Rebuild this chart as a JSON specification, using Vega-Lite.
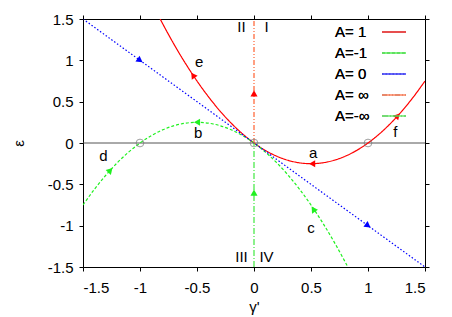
{
  "$schema": "https://vega.github.io/schema/vega-lite/v6.json",
  "width": 342,
  "height": 248,
  "autosize": "none",
  "padding": {"left": 83, "top": 19, "right": 27, "bottom": 50},
  "config": {
    "font": "Liberation Sans",
    "view": {"stroke": "black", "strokeWidth": 1},
    "axis": {"domain": false, "grid": false, "labelFontSize": 15, "labelColor": "black", "titleFontSize": 15, "titleFontWeight": "normal", "titleColor": "black"}
  },
  "datasets": {
    "curves": [
      {"series": "A= 1", "x": -0.823, "y": 1.5},
      {"series": "A= 1", "x": -0.8, "y": 1.44},
      {"series": "A= 1", "x": -0.7, "y": 1.19},
      {"series": "A= 1", "x": -0.6, "y": 0.96},
      {"series": "A= 1", "x": -0.5, "y": 0.75},
      {"series": "A= 1", "x": -0.4, "y": 0.56},
      {"series": "A= 1", "x": -0.3, "y": 0.39},
      {"series": "A= 1", "x": -0.2, "y": 0.24},
      {"series": "A= 1", "x": -0.1, "y": 0.11},
      {"series": "A= 1", "x": 0.0, "y": 0.0},
      {"series": "A= 1", "x": 0.1, "y": -0.09},
      {"series": "A= 1", "x": 0.2, "y": -0.16},
      {"series": "A= 1", "x": 0.3, "y": -0.21},
      {"series": "A= 1", "x": 0.4, "y": -0.24},
      {"series": "A= 1", "x": 0.5, "y": -0.25},
      {"series": "A= 1", "x": 0.6, "y": -0.24},
      {"series": "A= 1", "x": 0.7, "y": -0.21},
      {"series": "A= 1", "x": 0.8, "y": -0.16},
      {"series": "A= 1", "x": 0.9, "y": -0.09},
      {"series": "A= 1", "x": 1.0, "y": 0.0},
      {"series": "A= 1", "x": 1.1, "y": 0.11},
      {"series": "A= 1", "x": 1.2, "y": 0.24},
      {"series": "A= 1", "x": 1.3, "y": 0.39},
      {"series": "A= 1", "x": 1.4, "y": 0.56},
      {"series": "A= 1", "x": 1.5, "y": 0.75},
      {"series": "A=-1", "x": -1.5, "y": -0.75},
      {"series": "A=-1", "x": -1.4, "y": -0.56},
      {"series": "A=-1", "x": -1.3, "y": -0.39},
      {"series": "A=-1", "x": -1.2, "y": -0.24},
      {"series": "A=-1", "x": -1.1, "y": -0.11},
      {"series": "A=-1", "x": -1.0, "y": 0.0},
      {"series": "A=-1", "x": -0.9, "y": 0.09},
      {"series": "A=-1", "x": -0.8, "y": 0.16},
      {"series": "A=-1", "x": -0.7, "y": 0.21},
      {"series": "A=-1", "x": -0.6, "y": 0.24},
      {"series": "A=-1", "x": -0.5, "y": 0.25},
      {"series": "A=-1", "x": -0.4, "y": 0.24},
      {"series": "A=-1", "x": -0.3, "y": 0.21},
      {"series": "A=-1", "x": -0.2, "y": 0.16},
      {"series": "A=-1", "x": -0.1, "y": 0.09},
      {"series": "A=-1", "x": 0.0, "y": 0.0},
      {"series": "A=-1", "x": 0.1, "y": -0.11},
      {"series": "A=-1", "x": 0.2, "y": -0.24},
      {"series": "A=-1", "x": 0.3, "y": -0.39},
      {"series": "A=-1", "x": 0.4, "y": -0.56},
      {"series": "A=-1", "x": 0.5, "y": -0.75},
      {"series": "A=-1", "x": 0.6, "y": -0.96},
      {"series": "A=-1", "x": 0.7, "y": -1.19},
      {"series": "A=-1", "x": 0.8, "y": -1.44},
      {"series": "A=-1", "x": 0.823, "y": -1.5},
      {"series": "A= 0", "x": -1.5, "y": 1.5},
      {"series": "A= 0", "x": 1.5, "y": -1.5},
      {"series": "A= ∞", "x": 0, "y": 0},
      {"series": "A= ∞", "x": 0, "y": 1.5},
      {"series": "A=-∞", "x": 0, "y": -1.5},
      {"series": "A=-∞", "x": 0, "y": 0}
    ],
    "arrows": [
      {"series": "A= 1", "x": -0.535, "y": 0.82, "dir": -34},
      {"series": "A= 1", "x": 0.51, "y": -0.25, "dir": -90},
      {"series": "A= 1", "x": 1.26, "y": 0.33, "dir": 42},
      {"series": "A=-1", "x": -0.5, "y": 0.25, "dir": -90},
      {"series": "A=-1", "x": -1.26, "y": -0.33, "dir": 43},
      {"series": "A=-1", "x": 0.52, "y": -0.8, "dir": -34},
      {"series": "A= 0", "x": -1.0, "y": 1.0, "dir": 126},
      {"series": "A= 0", "x": 1.0, "y": -1.0, "dir": 126},
      {"series": "A= ∞", "x": 0, "y": 0.6, "dir": 0},
      {"series": "A=-∞", "x": 0, "y": -0.6, "dir": 0}
    ],
    "points": [
      {"x": -1, "y": 0},
      {"x": 0, "y": 0},
      {"x": 1, "y": 0}
    ],
    "labels": [
      {"label": "a", "x": 0.52, "y": -0.12},
      {"label": "b", "x": -0.49, "y": 0.12},
      {"label": "c", "x": 0.5, "y": -1.03},
      {"label": "d", "x": -1.32, "y": -0.16},
      {"label": "e", "x": -0.48, "y": 0.98},
      {"label": "f", "x": 1.24, "y": 0.13},
      {"label": "II", "x": -0.11, "y": 1.4},
      {"label": "I", "x": 0.11, "y": 1.4},
      {"label": "III", "x": -0.11, "y": -1.38},
      {"label": "IV", "x": 0.11, "y": -1.38}
    ]
  },
  "resolve": {"axis": {"x": "independent", "y": "independent"}, "scale": {"color": "independent"}},
  "layer": [
    {
      "data": {"values": [{"y": 0}]},
      "mark": {"type": "rule", "color": "#555555", "strokeWidth": 1},
      "encoding": {"y": {"field": "y", "type": "quantitative", "scale": {"domain": [-1.5, 1.5], "nice": false, "zero": false}, "axis": null}}
    },
    {
      "data": {"name": "curves"},
      "mark": {"type": "line", "strokeWidth": 1.2, "interpolate": "monotone", "clip": true},
      "encoding": {
        "x": {"field": "x", "type": "quantitative", "scale": {"domain": [-1.5, 1.5], "nice": false, "zero": false},
              "axis": {"orient": "bottom", "values": [-1.5, -1, -0.5, 0, 0.5, 1, 1.5], "labelExpr": "'' + datum.value", "title": "γ'", "ticks": true, "tickSize": 4, "tickWidth": 1, "tickColor": "#000000", "labelPadding": 9, "titleY": 39, "titleBaseline": "middle", "zindex": 2}},
        "y": {"field": "y", "type": "quantitative", "scale": {"domain": [-1.5, 1.5], "nice": false, "zero": false},
              "axis": {"orient": "left", "values": [-1.5, -1, -0.5, 0, 0.5, 1, 1.5], "labelExpr": "'' + datum.value", "title": "ε", "ticks": true, "tickSize": 4, "tickWidth": 1, "tickColor": "#000000", "labelPadding": 6, "titleX": -65, "titleY": 124, "titleBaseline": "middle", "titleAlign": "center", "zindex": 2}},
        "color": {"field": "series", "type": "nominal",
                  "scale": {"domain": ["A= 1", "A=-1", "A= 0", "A= ∞", "A=-∞"], "range": ["#ff0000", "#20f020", "#0000ff", "#ff6030", "#40e840"]},
                  "legend": {"title": null, "orient": "none", "legendX": 298, "legendY": 0, "padding": 0, "symbolType": "stroke", "symbolSize": 576, "symbolStrokeWidth": 1.2, "labelFontSize": 15, "labelAlign": "left", "labelOffset": -72, "rowPadding": -7.5, "labelLimit": 200}},
        "strokeDash": {"field": "series", "type": "nominal",
                  "scale": {"domain": ["A= 1", "A=-1", "A= 0", "A= ∞", "A=-∞"], "range": [[1, 0], [3, 2], [1.5, 2], [5, 2, 1, 2, 1, 2], [6, 2, 1, 2]]},
                  "legend": {"title": null, "orient": "none", "legendX": 298, "legendY": 0, "padding": 0, "symbolType": "stroke", "symbolSize": 576, "symbolStrokeWidth": 1.2, "labelFontSize": 15, "labelAlign": "left", "labelOffset": -72, "rowPadding": -7.5, "labelLimit": 200}}
      }
    },
    {
      "data": {"name": "points"},
      "mark": {"type": "point", "shape": "circle", "filled": false, "color": "#777777", "size": 60, "strokeWidth": 1},
      "encoding": {
        "x": {"field": "x", "type": "quantitative", "axis": null},
        "y": {"field": "y", "type": "quantitative", "axis": null}
      }
    },
    {
      "data": {"name": "arrows"},
      "mark": {"type": "point", "shape": "triangle-up", "filled": true, "size": 50, "opacity": 1},
      "encoding": {
        "x": {"field": "x", "type": "quantitative", "axis": null},
        "y": {"field": "y", "type": "quantitative", "axis": null},
        "angle": {"field": "dir", "type": "quantitative", "scale": null},
        "color": {"field": "series", "type": "nominal", "legend": null,
                  "scale": {"domain": ["A= 1", "A=-1", "A= 0", "A= ∞", "A=-∞"], "range": ["#ff0000", "#20f020", "#0000ff", "#ff0000", "#20f020"]}}
      }
    },
    {
      "data": {"name": "labels"},
      "mark": {"type": "text", "fontSize": 15, "color": "black", "align": "center", "baseline": "middle"},
      "encoding": {
        "x": {"field": "x", "type": "quantitative", "axis": null},
        "y": {"field": "y", "type": "quantitative", "axis": null},
        "text": {"field": "label"}
      }
    },
    {
      "data": {"name": "points"},
      "mark": {"type": "point", "opacity": 0},
      "encoding": {
        "x": {"field": "x", "type": "quantitative", "axis": {"orient": "top", "values": [-1.5, -1, -0.5, 0, 0.5, 1, 1.5], "labels": false, "title": null, "ticks": true, "tickSize": 4, "tickWidth": 1, "tickColor": "#000000", "zindex": 2}},
        "y": {"field": "y", "type": "quantitative", "axis": {"orient": "right", "values": [-1.5, -1, -0.5, 0, 0.5, 1, 1.5], "labels": false, "title": null, "ticks": true, "tickSize": 4, "tickWidth": 1, "tickColor": "#000000", "zindex": 2}}
      }
    }
  ]
}
